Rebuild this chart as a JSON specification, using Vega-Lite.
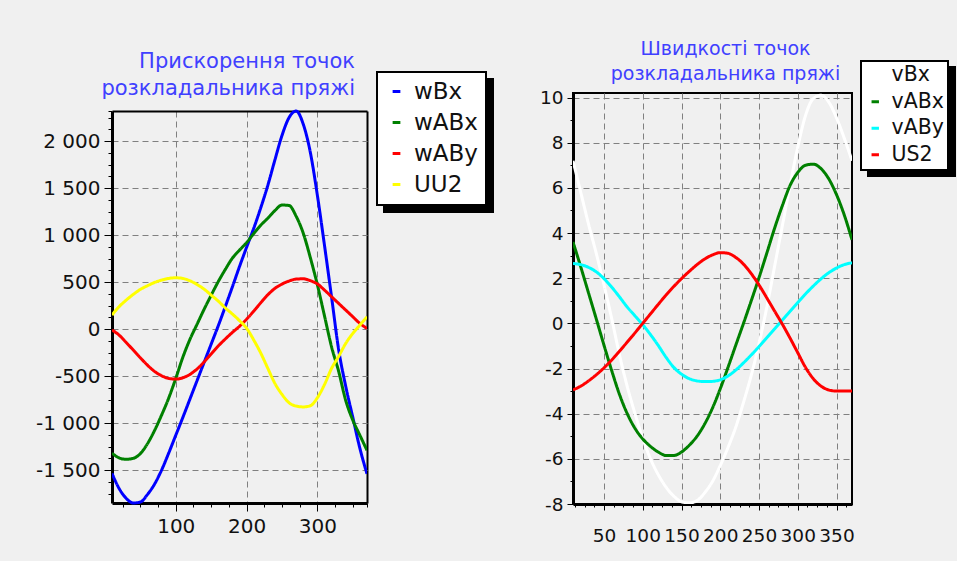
{
  "$schema": "https://vega.github.io/schema/vega-lite/v6.json",
  "background": "#f0f0f0",
  "padding": {"left": 35, "top": 39, "right": 0, "bottom": 15},
  "spacing": 206,
  "bounds": "flush",
  "resolve": {"scale": {"color": "independent", "strokeDash": "independent"}, "legend": {"color": "independent", "strokeDash": "independent"}},
  "config": {
    "font": "DejaVu Sans",
    "view": {"stroke": "#000", "strokeWidth": 2},
    "axis": {"domainColor": "#000", "domainWidth": 3, "tickColor": "#000", "tickWidth": 1, "labelColor": "#111", "gridColor": "#808080", "gridDash": [6, 4], "gridWidth": 1, "labelFont": "DejaVu Sans", "labelFlush": false, "labelOverlap": false},
    "legend": {"strokeWidth": 2}
  },
  "datasets": {
    "acc": [
      {"x":10,"s":"wBx","v":-1535},{"x":20,"s":"wBx","v":-1695},{"x":30,"s":"wBx","v":-1800},{"x":40,"s":"wBx","v":-1850},{"x":50,"s":"wBx","v":-1840},{"x":60,"s":"wBx","v":-1760},{"x":70,"s":"wBx","v":-1650},{"x":80,"s":"wBx","v":-1500},{"x":90,"s":"wBx","v":-1320},{"x":100,"s":"wBx","v":-1130},{"x":110,"s":"wBx","v":-940},{"x":120,"s":"wBx","v":-745},{"x":130,"s":"wBx","v":-550},{"x":140,"s":"wBx","v":-355},{"x":150,"s":"wBx","v":-160},{"x":160,"s":"wBx","v":35},{"x":170,"s":"wBx","v":240},{"x":180,"s":"wBx","v":450},{"x":190,"s":"wBx","v":665},{"x":200,"s":"wBx","v":870},{"x":210,"s":"wBx","v":1070},{"x":220,"s":"wBx","v":1290},{"x":230,"s":"wBx","v":1530},{"x":240,"s":"wBx","v":1800},{"x":250,"s":"wBx","v":2060},{"x":260,"s":"wBx","v":2250},{"x":270,"s":"wBx","v":2320},{"x":280,"s":"wBx","v":2180},{"x":290,"s":"wBx","v":1880},{"x":300,"s":"wBx","v":1420},{"x":310,"s":"wBx","v":890},{"x":320,"s":"wBx","v":340},{"x":330,"s":"wBx","v":-220},{"x":340,"s":"wBx","v":-610},{"x":350,"s":"wBx","v":-940},{"x":360,"s":"wBx","v":-1270},{"x":370,"s":"wBx","v":-1540},
      {"x":10,"s":"wABx","v":-1320},{"x":20,"s":"wABx","v":-1370},{"x":30,"s":"wABx","v":-1385},{"x":40,"s":"wABx","v":-1375},{"x":50,"s":"wABx","v":-1325},{"x":60,"s":"wABx","v":-1220},{"x":70,"s":"wABx","v":-1080},{"x":80,"s":"wABx","v":-915},{"x":90,"s":"wABx","v":-735},{"x":100,"s":"wABx","v":-525},{"x":110,"s":"wABx","v":-300},{"x":120,"s":"wABx","v":-110},{"x":130,"s":"wABx","v":50},{"x":140,"s":"wABx","v":210},{"x":150,"s":"wABx","v":360},{"x":160,"s":"wABx","v":505},{"x":170,"s":"wABx","v":635},{"x":180,"s":"wABx","v":755},{"x":190,"s":"wABx","v":840},{"x":200,"s":"wABx","v":920},{"x":210,"s":"wABx","v":1015},{"x":220,"s":"wABx","v":1105},{"x":230,"s":"wABx","v":1180},{"x":240,"s":"wABx","v":1260},{"x":250,"s":"wABx","v":1320},{"x":260,"s":"wABx","v":1315},{"x":270,"s":"wABx","v":1200},{"x":280,"s":"wABx","v":1020},{"x":290,"s":"wABx","v":760},{"x":300,"s":"wABx","v":470},{"x":310,"s":"wABx","v":140},{"x":320,"s":"wABx","v":-190},{"x":330,"s":"wABx","v":-450},{"x":340,"s":"wABx","v":-760},{"x":350,"s":"wABx","v":-970},{"x":360,"s":"wABx","v":-1130},{"x":370,"s":"wABx","v":-1290},
      {"x":10,"s":"wABy","v":-10},{"x":20,"s":"wABy","v":-64},{"x":30,"s":"wABy","v":-142},{"x":40,"s":"wABy","v":-223},{"x":50,"s":"wABy","v":-305},{"x":60,"s":"wABy","v":-383},{"x":70,"s":"wABy","v":-450},{"x":80,"s":"wABy","v":-496},{"x":90,"s":"wABy","v":-525},{"x":100,"s":"wABy","v":-532},{"x":110,"s":"wABy","v":-518},{"x":120,"s":"wABy","v":-482},{"x":130,"s":"wABy","v":-425},{"x":140,"s":"wABy","v":-350},{"x":150,"s":"wABy","v":-265},{"x":160,"s":"wABy","v":-180},{"x":170,"s":"wABy","v":-105},{"x":180,"s":"wABy","v":-35},{"x":190,"s":"wABy","v":30},{"x":200,"s":"wABy","v":105},{"x":210,"s":"wABy","v":190},{"x":220,"s":"wABy","v":280},{"x":230,"s":"wABy","v":365},{"x":240,"s":"wABy","v":433},{"x":250,"s":"wABy","v":479},{"x":260,"s":"wABy","v":511},{"x":270,"s":"wABy","v":532},{"x":280,"s":"wABy","v":535},{"x":290,"s":"wABy","v":515},{"x":300,"s":"wABy","v":480},{"x":310,"s":"wABy","v":415},{"x":320,"s":"wABy","v":344},{"x":330,"s":"wABy","v":273},{"x":340,"s":"wABy","v":202},{"x":350,"s":"wABy","v":131},{"x":360,"s":"wABy","v":60},{"x":370,"s":"wABy","v":7},
      {"x":10,"s":"UU2","v":150},{"x":20,"s":"UU2","v":238},{"x":30,"s":"UU2","v":308},{"x":40,"s":"UU2","v":369},{"x":50,"s":"UU2","v":422},{"x":60,"s":"UU2","v":461},{"x":70,"s":"UU2","v":496},{"x":80,"s":"UU2","v":521},{"x":90,"s":"UU2","v":539},{"x":100,"s":"UU2","v":546},{"x":110,"s":"UU2","v":539},{"x":120,"s":"UU2","v":514},{"x":130,"s":"UU2","v":475},{"x":140,"s":"UU2","v":425},{"x":150,"s":"UU2","v":362},{"x":160,"s":"UU2","v":298},{"x":170,"s":"UU2","v":225},{"x":180,"s":"UU2","v":160},{"x":190,"s":"UU2","v":90},{"x":200,"s":"UU2","v":10},{"x":210,"s":"UU2","v":-115},{"x":220,"s":"UU2","v":-255},{"x":230,"s":"UU2","v":-418},{"x":240,"s":"UU2","v":-578},{"x":250,"s":"UU2","v":-695},{"x":260,"s":"UU2","v":-784},{"x":270,"s":"UU2","v":-819},{"x":280,"s":"UU2","v":-828},{"x":290,"s":"UU2","v":-815},{"x":300,"s":"UU2","v":-730},{"x":310,"s":"UU2","v":-590},{"x":320,"s":"UU2","v":-418},{"x":330,"s":"UU2","v":-290},{"x":340,"s":"UU2","v":-152},{"x":350,"s":"UU2","v":-46},{"x":360,"s":"UU2","v":43},{"x":370,"s":"UU2","v":131}
    ],
    "vel": [
      {"x":10,"s":"vBx","v":7.2},{"x":20,"s":"vBx","v":5.8},{"x":30,"s":"vBx","v":4.4},{"x":40,"s":"vBx","v":3.1},{"x":50,"s":"vBx","v":1.7},{"x":60,"s":"vBx","v":0.2},{"x":70,"s":"vBx","v":-1.4},{"x":80,"s":"vBx","v":-2.8},{"x":90,"s":"vBx","v":-4.0},{"x":100,"s":"vBx","v":-5.1},{"x":110,"s":"vBx","v":-6.0},{"x":120,"s":"vBx","v":-6.7},{"x":130,"s":"vBx","v":-7.25},{"x":140,"s":"vBx","v":-7.65},{"x":150,"s":"vBx","v":-7.9},{"x":160,"s":"vBx","v":-7.95},{"x":170,"s":"vBx","v":-7.85},{"x":180,"s":"vBx","v":-7.5},{"x":190,"s":"vBx","v":-7.0},{"x":200,"s":"vBx","v":-6.3},{"x":210,"s":"vBx","v":-5.5},{"x":220,"s":"vBx","v":-4.6},{"x":230,"s":"vBx","v":-3.5},{"x":240,"s":"vBx","v":-2.3},{"x":250,"s":"vBx","v":-0.9},{"x":260,"s":"vBx","v":0.7},{"x":270,"s":"vBx","v":2.5},{"x":280,"s":"vBx","v":4.3},{"x":290,"s":"vBx","v":6.1},{"x":300,"s":"vBx","v":7.8},{"x":310,"s":"vBx","v":9.2},{"x":320,"s":"vBx","v":9.95},{"x":330,"s":"vBx","v":10.1},{"x":340,"s":"vBx","v":9.8},{"x":350,"s":"vBx","v":9.1},{"x":360,"s":"vBx","v":8.2},{"x":370,"s":"vBx","v":7.2},
      {"x":10,"s":"vABx","v":3.6},{"x":20,"s":"vABx","v":2.5},{"x":30,"s":"vABx","v":1.35},{"x":40,"s":"vABx","v":0.2},{"x":50,"s":"vABx","v":-0.97},{"x":60,"s":"vABx","v":-2.1},{"x":70,"s":"vABx","v":-3.15},{"x":80,"s":"vABx","v":-4.0},{"x":90,"s":"vABx","v":-4.65},{"x":100,"s":"vABx","v":-5.12},{"x":110,"s":"vABx","v":-5.45},{"x":120,"s":"vABx","v":-5.7},{"x":130,"s":"vABx","v":-5.85},{"x":140,"s":"vABx","v":-5.85},{"x":150,"s":"vABx","v":-5.7},{"x":160,"s":"vABx","v":-5.4},{"x":170,"s":"vABx","v":-5.0},{"x":180,"s":"vABx","v":-4.45},{"x":190,"s":"vABx","v":-3.75},{"x":200,"s":"vABx","v":-2.9},{"x":210,"s":"vABx","v":-1.95},{"x":220,"s":"vABx","v":-0.97},{"x":230,"s":"vABx","v":0.0},{"x":240,"s":"vABx","v":1.0},{"x":250,"s":"vABx","v":2.02},{"x":260,"s":"vABx","v":3.1},{"x":270,"s":"vABx","v":4.2},{"x":280,"s":"vABx","v":5.2},{"x":290,"s":"vABx","v":6.1},{"x":300,"s":"vABx","v":6.68},{"x":310,"s":"vABx","v":7.0},{"x":320,"s":"vABx","v":7.05},{"x":330,"s":"vABx","v":6.85},{"x":340,"s":"vABx","v":6.4},{"x":350,"s":"vABx","v":5.7},{"x":360,"s":"vABx","v":4.8},{"x":370,"s":"vABx","v":3.7},
      {"x":10,"s":"vABy","v":2.65},{"x":20,"s":"vABy","v":2.6},{"x":30,"s":"vABy","v":2.48},{"x":40,"s":"vABy","v":2.28},{"x":50,"s":"vABy","v":1.98},{"x":60,"s":"vABy","v":1.6},{"x":70,"s":"vABy","v":1.17},{"x":80,"s":"vABy","v":0.72},{"x":90,"s":"vABy","v":0.33},{"x":100,"s":"vABy","v":-0.06},{"x":110,"s":"vABy","v":-0.5},{"x":120,"s":"vABy","v":-0.98},{"x":130,"s":"vABy","v":-1.5},{"x":140,"s":"vABy","v":-1.95},{"x":150,"s":"vABy","v":-2.25},{"x":160,"s":"vABy","v":-2.45},{"x":170,"s":"vABy","v":-2.55},{"x":180,"s":"vABy","v":-2.58},{"x":190,"s":"vABy","v":-2.57},{"x":200,"s":"vABy","v":-2.5},{"x":210,"s":"vABy","v":-2.33},{"x":220,"s":"vABy","v":-2.07},{"x":230,"s":"vABy","v":-1.75},{"x":240,"s":"vABy","v":-1.4},{"x":250,"s":"vABy","v":-1.03},{"x":260,"s":"vABy","v":-0.64},{"x":270,"s":"vABy","v":-0.25},{"x":280,"s":"vABy","v":0.14},{"x":290,"s":"vABy","v":0.53},{"x":300,"s":"vABy","v":0.92},{"x":310,"s":"vABy","v":1.3},{"x":320,"s":"vABy","v":1.65},{"x":330,"s":"vABy","v":1.97},{"x":340,"s":"vABy","v":2.24},{"x":350,"s":"vABy","v":2.45},{"x":360,"s":"vABy","v":2.6},{"x":370,"s":"vABy","v":2.68},
      {"x":10,"s":"US2","v":-2.95},{"x":20,"s":"US2","v":-2.78},{"x":30,"s":"US2","v":-2.55},{"x":40,"s":"US2","v":-2.28},{"x":50,"s":"US2","v":-1.97},{"x":60,"s":"US2","v":-1.62},{"x":70,"s":"US2","v":-1.23},{"x":80,"s":"US2","v":-0.83},{"x":90,"s":"US2","v":-0.42},{"x":100,"s":"US2","v":0.0},{"x":110,"s":"US2","v":0.42},{"x":120,"s":"US2","v":0.84},{"x":130,"s":"US2","v":1.25},{"x":140,"s":"US2","v":1.63},{"x":150,"s":"US2","v":1.98},{"x":160,"s":"US2","v":2.3},{"x":170,"s":"US2","v":2.6},{"x":180,"s":"US2","v":2.85},{"x":190,"s":"US2","v":3.03},{"x":200,"s":"US2","v":3.13},{"x":210,"s":"US2","v":3.1},{"x":220,"s":"US2","v":2.92},{"x":230,"s":"US2","v":2.62},{"x":240,"s":"US2","v":2.2},{"x":250,"s":"US2","v":1.7},{"x":260,"s":"US2","v":1.13},{"x":270,"s":"US2","v":0.55},{"x":280,"s":"US2","v":-0.03},{"x":290,"s":"US2","v":-0.65},{"x":300,"s":"US2","v":-1.3},{"x":310,"s":"US2","v":-1.95},{"x":320,"s":"US2","v":-2.45},{"x":330,"s":"US2","v":-2.78},{"x":340,"s":"US2","v":-2.95},{"x":350,"s":"US2","v":-3.0},{"x":360,"s":"US2","v":-3.0},{"x":370,"s":"US2","v":-3.0}
    ]
  },
  "hconcat": [
    {
      "width": 255,
      "height": 428,
      "view": {"stroke": null},
      "title": {"text": ["Прискорення точок", "розкладальника пряжі"], "anchor": "end", "frame": "group", "dx": -12, "fontSize": 21, "fontWeight": "normal", "color": "#4040ff", "lineHeight": 27, "offset": -28, "font": "DejaVu Sans"},
      "data": {"name": "acc"},
      "mark": {"type": "line", "strokeWidth": 3, "clip": true, "interpolate": "monotone"},
      "encoding": {
        "x": {"field": "x", "type": "quantitative", "scale": {"domain": [10, 370], "nice": false, "zero": false},
          "axis": {"title": null, "format": "d", "offset": -18, "values": [25,50,75,100,125,150,175,200,225,250,275,300,325,350,370],
            "labelExpr": "datum.value % 100 === 0 ? datum.label : ''",
            "gridOpacity": {"condition": {"test": "datum.value % 100 === 0 || datum.value === 370", "value": 1}, "value": 0},
            "gridDash": {"condition": {"test": "datum.value === 370", "value": []}, "value": [6, 4]},
            "gridColor": {"condition": {"test": "datum.value === 370", "value": "#000000"}, "value": "#808080"},
            "gridWidth": {"condition": {"test": "datum.value === 370", "value": 2}, "value": 1},
            "tickSize": {"condition": {"test": "datum.value % 100 === 0", "value": 8}, "value": 4},
            "labelFontSize": 20, "labelPadding": 5}},
        "y": {"field": "v", "type": "quantitative", "scale": {"domain": [-1850, 2320], "nice": false, "zero": false, "range": [410, 18]},
          "axis": {"title": null, "format": ",d", "values": [-1750,-1625,-1500,-1375,-1250,-1125,-1000,-875,-750,-625,-500,-375,-250,-125,0,125,250,375,500,625,750,875,1000,1125,1250,1375,1500,1625,1750,1875,2000,2125,2250,2320],
            "labelExpr": "datum.value % 500 === 0 ? replace(replace(datum.label, ',', ' '), '\u2212', '-') : ''",
            "gridOpacity": {"condition": {"test": "datum.value % 500 === 0 || datum.value === 2320", "value": 1}, "value": 0},
            "gridDash": {"condition": {"test": "datum.value === 2320", "value": []}, "value": [6, 4]},
            "gridColor": {"condition": {"test": "datum.value === 2320", "value": "#000000"}, "value": "#808080"},
            "gridWidth": {"condition": {"test": "datum.value === 2320", "value": 2}, "value": 1},
            "tickSize": {"condition": {"test": "datum.value % 500 === 0", "value": 8}, "value": 4},
            "labelFontSize": 20, "labelPadding": 4}},
        "color": {"field": "s", "type": "nominal",
          "scale": {"domain": ["wBx", "wABx", "wABy", "UU2"], "range": ["#0000ff", "#008000", "#ff0000", "#ffff00"]},
          "legend": {"orient": "none", "legendX": 265, "legendY": -21, "zindex": 2, "title": null, "fillColor": "#ffffff", "strokeColor": "#000000", "padding": 8, "symbolType": "stroke", "symbolSize": 60, "symbolStrokeWidth": 3, "labelFontSize": 23, "labelOffset": 6, "rowPadding": 7, "labelColor": "#111", "labelFont": "DejaVu Sans"}},
        "strokeDash": {"field": "s", "type": "nominal",
          "scale": {"domain": ["UU2", "wABy", "wABx", "wBx"], "range": [[1, 0], [1, 0], [1, 0], [1, 0]]},
          "legend": {"orient": "none", "legendX": 272, "legendY": -14, "zindex": 1, "title": null, "fillColor": "#000000", "strokeColor": "#000000", "padding": 8, "symbolType": "stroke", "symbolSize": 60, "symbolStrokeWidth": 3, "symbolStrokeColor": "#000000", "labelFontSize": 23, "labelOffset": 6, "rowPadding": 7, "labelColor": "#000000", "labelFont": "DejaVu Sans"}}
      }
    },
    {
      "width": 279,
      "height": 411,
      "title": {"text": ["Швидкості точок", "розкладальника пряжі"], "anchor": "middle", "frame": "group", "dx": 13, "fontSize": 19, "fontWeight": "normal", "color": "#4040ff", "lineHeight": 25, "offset": -24, "font": "DejaVu Sans"},
      "data": {"name": "vel"},
      "mark": {"type": "line", "strokeWidth": 3, "clip": true, "interpolate": "monotone"},
      "encoding": {
        "x": {"field": "x", "type": "quantitative", "scale": {"domain": [10, 370], "nice": false, "zero": false},
          "axis": {"title": null, "format": "d", "values": [12.5,25,37.5,50,62.5,75,87.5,100,112.5,125,137.5,150,162.5,175,187.5,200,212.5,225,237.5,250,262.5,275,287.5,300,312.5,325,337.5,350,362.5],
            "labelExpr": "datum.value % 50 === 0 ? datum.label : ''",
            "gridOpacity": {"condition": {"test": "datum.value % 50 === 0", "value": 1}, "value": 0},
            "tickSize": {"condition": {"test": "datum.value % 50 === 0", "value": 6}, "value": 3},
            "labelFontSize": 18.5, "labelPadding": 16}},
        "y": {"field": "v", "type": "quantitative", "scale": {"domain": [-8, 10.2], "nice": false, "zero": false},
          "axis": {"title": null, "format": "d", "values": [-8,-7.5,-7,-6.5,-6,-5.5,-5,-4.5,-4,-3.5,-3,-2.5,-2,-1.5,-1,-0.5,0,0.5,1,1.5,2,2.5,3,3.5,4,4.5,5,5.5,6,6.5,7,7.5,8,8.5,9,9.5,10],
            "labelExpr": "datum.value % 2 === 0 ? replace(datum.label, '\u2212', '-') : ''",
            "gridOpacity": {"condition": {"test": "datum.value % 2 === 0", "value": 1}, "value": 0},
            "tickSize": {"condition": {"test": "datum.value % 2 === 0", "value": 6}, "value": 3},
            "labelFontSize": 18.5, "labelPadding": 4}},
        "color": {"field": "s", "type": "nominal",
          "scale": {"domain": ["vBx", "vABx", "vABy", "US2"], "range": ["#ffffff", "#008000", "#00ffff", "#ff0000"]},
          "legend": {"orient": "none", "legendX": 288, "legendY": -32, "zindex": 2, "title": null, "fillColor": "#ffffff", "strokeColor": "#000000", "padding": 4, "symbolType": "stroke", "symbolSize": 55, "symbolStrokeWidth": 3, "labelFontSize": 20.5, "labelOffset": 6, "rowPadding": 5.5, "labelColor": "#111", "labelFont": "DejaVu Sans"}},
        "strokeDash": {"field": "s", "type": "nominal",
          "scale": {"domain": ["US2", "vABy", "vABx", "vBx"], "range": [[1, 0], [1, 0], [1, 0], [1, 0]]},
          "legend": {"orient": "none", "legendX": 295, "legendY": -26, "zindex": 1, "title": null, "fillColor": "#000000", "strokeColor": "#000000", "padding": 4, "symbolType": "stroke", "symbolSize": 55, "symbolStrokeWidth": 3, "symbolStrokeColor": "#000000", "labelFontSize": 20.5, "labelOffset": 6, "rowPadding": 5.5, "labelColor": "#000000", "labelFont": "DejaVu Sans"}}
      }
    }
  ]
}
